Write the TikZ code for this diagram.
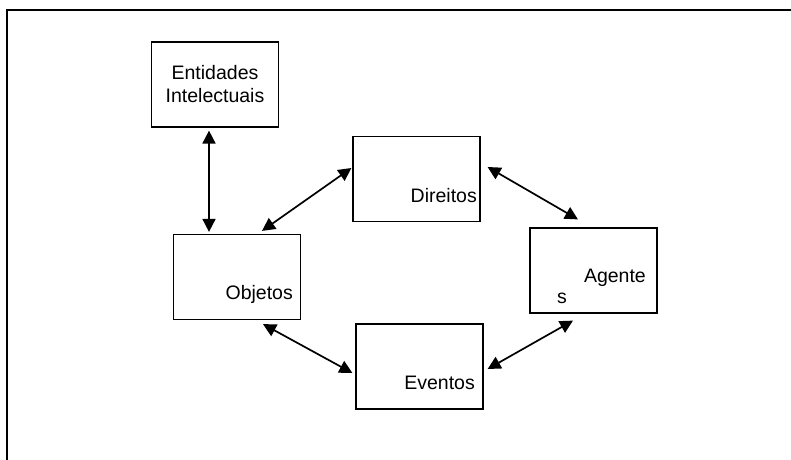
\documentclass[tikz,border=0pt]{standalone}
\usepackage{fontspec}
\setmainfont{Liberation Sans}
\usetikzlibrary{arrows.meta}

\tikzset{
  box/.style={draw, line width=1.2pt, minimum width=127pt, minimum height=85pt, inner sep=0pt},
  lbl/.style={inner sep=0pt, anchor=base east},
  link/.style={{Triangle[length=13pt,width=13pt]}-{Triangle[length=13pt,width=13pt]}, line width=1.7pt}
}

\begin{document}
\begin{tikzpicture}[x=1pt, y=-1pt, font=\fontsize{19.5}{23}\selectfont]
  \useasboundingbox (0,0) rectangle (791,459);
  \clip (0,0) rectangle (791,459);
  \draw[line width=1.5pt] (7,10) rectangle (830,490);

  \node[box, align=center] (ent) at (215,84.5) {Entidades\\Intelectuais};
  \node[box] (dir) at (416.5,179) {};
  \node[box] (obj) at (237,277) {};
  \node[box] (eve) at (419.5,366.5) {};
  \node[box] (age) at (593.5,270.5) {};

  \node[lbl] (dirtxt) at (477,202) {Direitos};
  \node[lbl] (objtxt) at (293,299) {Objetos};
  \node[lbl] (evetxt) at (475,389) {Eventos};
  \node[lbl] (agetxt) at (646,282) {Agente};
  \node[lbl, anchor=base west] (agetxt2) at (557,303) {s};

  \draw[link] ([xshift=-6pt,yshift=-3pt]ent.south) -- ([xshift=-28pt,yshift=2pt]obj.north);
  \draw[link] ([xshift=25pt,yshift=3pt]obj.north) -- ([xshift=-1pt,yshift=11pt]dir.west);
  \draw[link] ([xshift=7pt,yshift=12pt]dir.east) -- ([xshift=-15.5pt,yshift=8pt]age.north);
  \draw[link] ([xshift=-20.5pt,yshift=-7pt]age.south) -- ([xshift=4pt,yshift=-2.5pt]eve.east);
  \draw[link] ([xshift=26pt,yshift=-4pt]obj.south) -- ([xshift=-3pt,yshift=-6.5pt]eve.west);
\end{tikzpicture}
\end{document}
